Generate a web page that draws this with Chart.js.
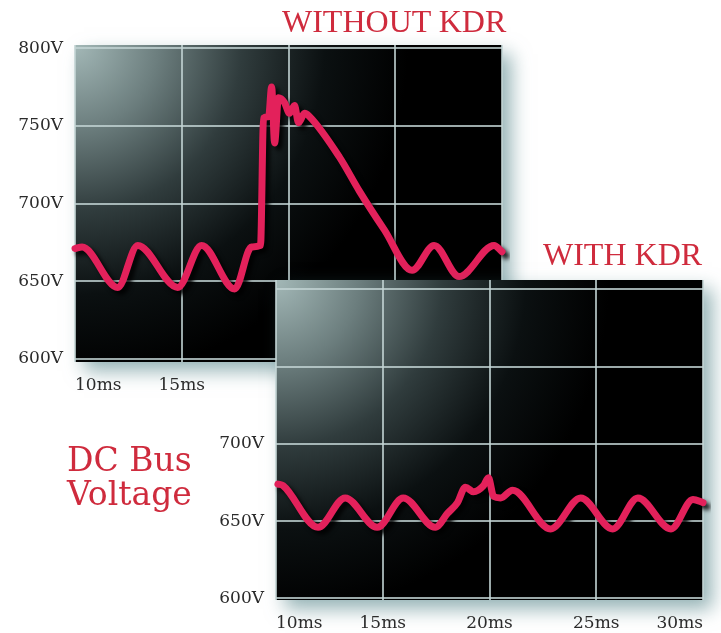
<!DOCTYPE html>
<html lang="en">
<head>
  <meta charset="UTF-8" />
  <title>DC Bus Voltage - with and without KDR</title>
  <script src="https://cdn.jsdelivr.net/npm/chart.js"></script>
  <style>
    body {
      margin: 0;
      background: #ffffff;
      width: 721px;
      height: 633px;
      overflow: hidden;
      position: relative;
    }
    canvas {
      position: absolute;
      left: 0;
      top: 0;
    }
    #topChart { z-index: 1; }
    #bottomChart { z-index: 2; }
    .label {
      position: absolute;
      z-index: 3;
      color: #cf2b3d;
      white-space: nowrap;
    }
    .kdr {
      font-family: 'Liberation Serif', serif;
      font-size: 32px;
      line-height: 32px;
    }
    #dcbus {
      left: 67px;
      top: 443px;
      font-family: 'DejaVu Serif', serif;
      font-size: 33px;
      line-height: 34px;
    }
  </style>
</head>
<body>

<div class="label kdr" style="left:282px; top:5px;">WITHOUT KDR</div>
<div class="label kdr" style="left:543px; top:238px;">WITH KDR</div>
<div class="label" id="dcbus">DC Bus<br>Voltage</div>

<canvas id="topChart" width="721" height="633"></canvas>
<canvas id="bottomChart" width="721" height="633"></canvas>

<script>
  // ---- data ----
  const timeTicks = [10, 15, 20, 25, 30];          // ms
  const voltTicks = [600, 650, 700, 750, 800];     // V

  // without KDR
  const noKdrTime = [10.0, 10.33, 12.0, 12.94, 14.81, 15.93, 17.48, 18.27, 18.69, 18.83,
                     19.07, 19.21, 19.35, 19.53, 19.81, 20.05, 20.28, 20.47, 20.75, 20.98,
                     22.38, 23.32, 24.49, 25.79, 26.82, 27.99, 29.63, 30.0];
  const noKdrVolt = [671, 672, 646, 673, 646, 673, 645, 672, 673, 755,
                     756, 775, 739, 768, 765, 758, 763, 752, 758, 756,
                     730, 708, 683, 657, 673, 653, 673, 669];

  // with KDR
  const kdrTime = [10.09, 10.33, 11.97, 13.24, 14.74, 15.96, 17.46, 18.03, 18.5, 18.87,
                   19.25, 19.72, 19.95, 20.19, 20.52, 21.08, 22.86, 24.27, 25.77, 26.95,
                   28.5, 29.53, 30.0];
  const kdrVolt = [674, 673, 646, 665, 646, 665, 646, 655, 662, 672,
                   669, 673, 678, 666, 665, 670, 645, 665, 645, 665,
                   645, 664, 662];

  const traceColor = '#e3215b';
  const tickFont = { family: 'DejaVu Serif', size: 17 };

  // dark scope screen with a light glare in the top-left corner + soft drop shadow
  const scopeScreen = {
    id: 'scopeScreen',
    beforeDraw(chart) {
      const { ctx, chartArea: a } = chart;
      ctx.save();
      ctx.shadowColor = 'rgba(60, 115, 120, 0.55)';
      ctx.shadowBlur = 18;
      ctx.shadowOffsetX = 9;
      ctx.shadowOffsetY = 9;
      const g = ctx.createRadialGradient(a.left, a.top, 0, a.left, a.top, a.width * 0.78);
      g.addColorStop(0, '#a3b8b7');
      g.addColorStop(0.25, '#6c7e7e');
      g.addColorStop(0.5, '#303c3d');
      g.addColorStop(0.75, '#0b1011');
      g.addColorStop(1, '#000000');
      ctx.fillStyle = g;
      ctx.fillRect(a.left, a.top, a.width, a.height);
      ctx.restore();
    },
    beforeDatasetsDraw(chart) {
      const ctx = chart.ctx;
      ctx.save();
      ctx.shadowColor = 'rgba(0, 0, 0, 0.85)';
      ctx.shadowBlur = 4;
      ctx.shadowOffsetX = 4;
      ctx.shadowOffsetY = 4;
    },
    afterDatasetsDraw(chart) {
      chart.ctx.restore();
    }
  };

  function makeScope(canvasId, times, volts, o) {
    return new Chart(document.getElementById(canvasId), {
      type: 'line',
      data: {
        datasets: [{
          data: times.map((t, i) => ({ x: t, y: volts[i] })),
          borderColor: traceColor,
          borderWidth: 7,
          borderCapStyle: 'round',
          borderJoinStyle: 'round',
          pointRadius: 0,
          cubicInterpolationMode: 'monotone',
          clip: 8
        }]
      },
      options: {
        responsive: false,
        animation: false,
        events: [],
        layout: { padding: o.padding },
        plugins: {
          legend: { display: false },
          tooltip: { enabled: false }
        },
        scales: {
          x: {
            type: 'linear',
            min: 10,
            max: 30,
            afterBuildTicks: s => { s.ticks = timeTicks.map(v => ({ value: v })); },
            afterFit: s => { s.height = o.xHeight; },
            grid: { color: 'rgba(195, 212, 212, 0.8)', lineWidth: 2, drawTicks: false },
            border: { display: false },
            ticks: {
              align: 'inner',
              padding: 13,
              color: '#2b2b2b',
              font: tickFont,
              maxRotation: 0,
              autoSkip: false,
              callback: v => o.showTime.includes(v) ? v + 'ms' : ''
            }
          },
          y: {
            min: o.yMin,
            max: o.yMax,
            afterBuildTicks: s => { s.ticks = voltTicks.map(v => ({ value: v })); },
            afterFit: s => { s.width = o.yWidth; },
            grid: { color: 'rgba(195, 212, 212, 0.8)', lineWidth: 2, drawTicks: false },
            border: { display: false },
            ticks: {
              padding: 12,
              color: '#2b2b2b',
              font: tickFont,
              callback: v => o.showVolt.includes(v) ? v + 'V' : ''
            }
          }
        }
      },
      plugins: [scopeScreen]
    });
  }

  makeScope('topChart', noKdrTime, noKdrVolt, {
    padding: { left: 0, top: 45, right: 219, bottom: 0 },
    yWidth: 75, xHeight: 271,
    yMin: 598, yMax: 802,
    showTime: [10, 15],
    showVolt: [600, 650, 700, 750, 800]
  });

  makeScope('bottomChart', kdrTime, kdrVolt, {
    padding: { left: 0, top: 280, right: 18, bottom: 0 },
    yWidth: 276, xHeight: 33,
    yMin: 599, yMax: 806,
    showTime: [10, 15, 20, 25, 30],
    showVolt: [600, 650, 700]
  });
</script>

</body>
</html>
